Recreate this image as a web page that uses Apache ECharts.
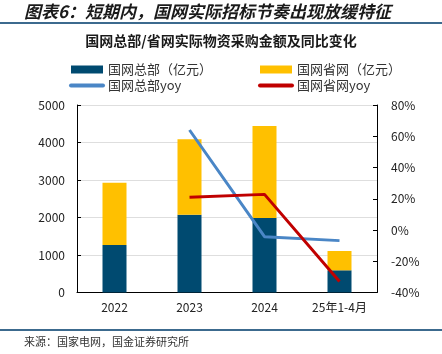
<!DOCTYPE html>
<html>
<head>
<meta charset="utf-8">
<script src="https://cdn.jsdelivr.net/npm/echarts@6/dist/echarts.min.js"></script>
<style>
html,body{margin:0;padding:0;background:#fff;}
#main{width:442px;height:354px;}
</style>
</head>
<body>
<div id="main"></div>
<script>
// 类目与数据
var categories = ['2022', '2023', '2024', '25年1-4月'];
var hqAmount = [1270, 2075, 1990, 592];      // 国网总部（亿元）
var provAmount = [1660, 2015, 2450, 515];    // 国网省网（亿元）
var hqYoy = [null, 64, -4.3, -6.8];          // 国网总部yoy (%)
var provYoy = [null, 21, 22.8, -33];         // 国网省网yoy (%)

var FONT = '"Noto Sans CJK SC", "Liberation Sans", sans-serif';

function initChart(){
	var myChart = echarts.init(document.getElementById('main'));
	// 图例里的线条样式
	var lineLegend = function(name){
		return {name: name, itemStyle: {opacity: 0}, lineStyle: {width: 4, cap: 'round'}};
	};
	var option = {
		animation: false,
		textStyle: {fontFamily: FONT},
		graphic: [
			{type: 'text', left: 24, top: 3, style: {text: '图表6：短期内，国网实际招标节奏出现放缓特征', font: 'italic bold 17px ' + FONT, fill: '#1a1a1a'}},
			{type: 'rect', shape: {x: 0, y: 22, width: 442, height: 2}, style: {fill: '#3c6a8e'}},
			{type: 'text', left: 'center', top: 34, style: {text: '国网总部/省网实际物资采购金额及同比变化', font: 'bold 14px ' + FONT, fill: '#1a1a1a'}},
			{type: 'rect', shape: {x: 0, y: 329, width: 442, height: 2}, style: {fill: '#3c6a8e'}},
			{type: 'text', left: 24, top: 336, style: {text: '来源：国家电网，国金证券研究所', font: '11px ' + FONT, fill: '#333'}}
		],
		legend: [{
			left: 64, top: 58, orient: 'vertical', itemGap: 3,
			itemWidth: 32, itemHeight: 8,
			textStyle: {fontSize: 13, color: '#333'},
			data: [{name: '国网总部（亿元）', icon: 'rect'}, lineLegend('国网总部yoy')]
		}, {
			left: 253, top: 58, orient: 'vertical', itemGap: 3,
			itemWidth: 32, itemHeight: 8,
			textStyle: {fontSize: 13, color: '#333'},
			data: [{name: '国网省网（亿元）', icon: 'rect'}, lineLegend('国网省网yoy')]
		}],
		grid: {left: 77, right: 65, top: 105, bottom: 61.5},
		xAxis: {
			type: 'category',
			data: categories,
			axisLine: {lineStyle: {color: '#000'}},
			axisTick: {inside: true, length: 4, lineStyle: {color: '#000'}},
			axisLabel: {fontSize: 12, color: '#222', margin: 9}
		},
		yAxis: [{
			type: 'value', min: 0, max: 5000, interval: 1000,
			axisLine: {show: true, lineStyle: {color: '#000'}},
			axisTick: {show: true, inside: true, length: 4, lineStyle: {color: '#000'}},
			axisLabel: {fontSize: 12, color: '#222', margin: 12, formatter: function(v){ return String(v); }},
			splitLine: {lineStyle: {color: '#dedede'}}
		}, {
			type: 'value', min: -40, max: 80, interval: 20,
			axisLine: {show: true, lineStyle: {color: '#000'}},
			axisTick: {show: true, inside: true, length: 4, lineStyle: {color: '#000'}},
			axisLabel: {fontSize: 12, color: '#222', margin: 14, formatter: '{value}%'},
			splitLine: {show: false}
		}],
		series: [{
			name: '国网总部（亿元）', type: 'bar', stack: 'amt', barWidth: 24,
			itemStyle: {color: '#004a70'}, data: hqAmount
		}, {
			name: '国网省网（亿元）', type: 'bar', stack: 'amt', barWidth: 24,
			itemStyle: {color: '#ffc000'}, data: provAmount
		}, {
			name: '国网总部yoy', type: 'line', yAxisIndex: 1, symbol: 'none',
			lineStyle: {color: '#4a86c6', width: 3}, itemStyle: {color: '#4a86c6'},
			data: hqYoy
		}, {
			name: '国网省网yoy', type: 'line', yAxisIndex: 1, symbol: 'none',
			lineStyle: {color: '#c00000', width: 3}, itemStyle: {color: '#c00000'},
			data: provYoy
		}]
	};
	myChart.setOption(option);
}

initChart();
</script>
</body>
</html>
